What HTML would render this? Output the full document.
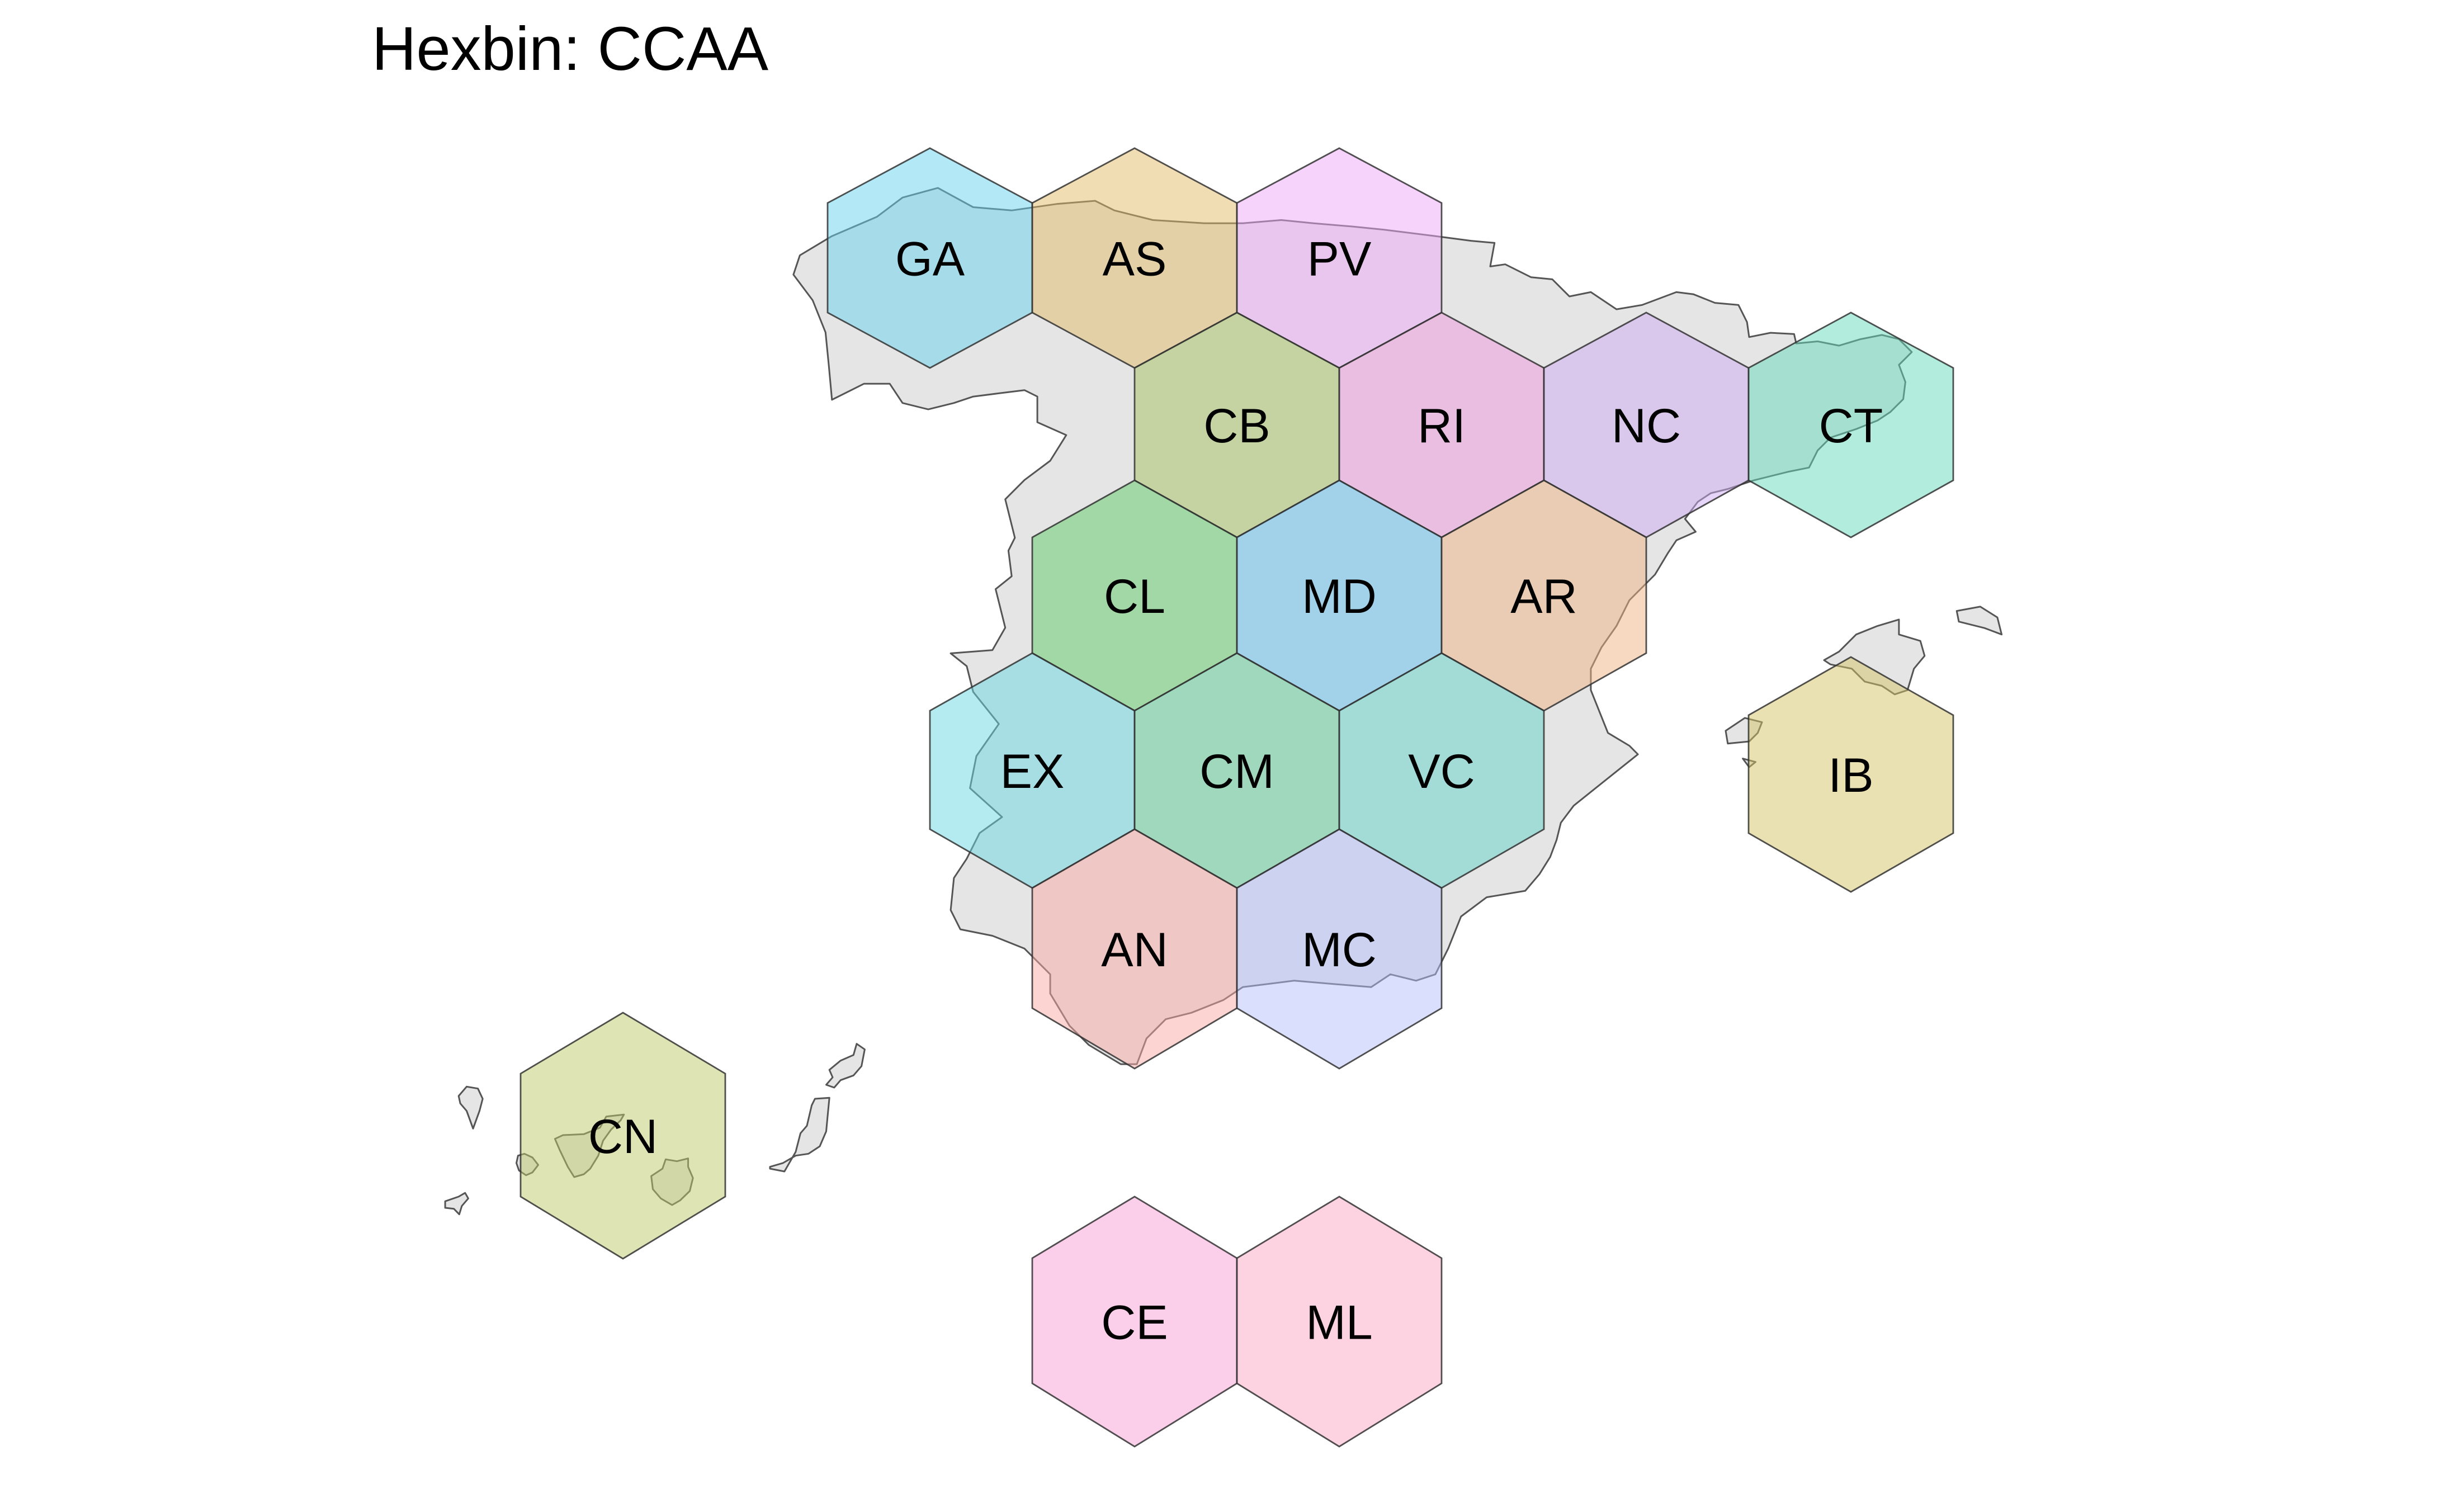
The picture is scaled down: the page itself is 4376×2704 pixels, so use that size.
<!DOCTYPE html>
<html><head><meta charset="utf-8"><style>
html,body{margin:0;padding:0;background:#fff;}
svg{display:block;font-family:"Liberation Sans",Arial,sans-serif;}
</style></head><body>
<svg id="chart" width="4376" height="2704" viewBox="0 0 4376 2704" xmlns="http://www.w3.org/2000/svg">
<rect width="4376" height="2704" fill="#fff"/>
<text x="665" y="125" font-size="110" fill="#000">Hexbin: CCAA</text>
<g id="land"></g>
<g id="hexes"></g>
</svg>
<script>
// ---- data ----
const codes = ["GA","AS","PV","CB","RI","NC","CT","CL","MD","AR","EX","CM","VC","AN","MC","CE","ML","IB","CN"];
const colIdx = [0,2,4, 3,5,7,9, 2,4,6, 1,3,5, 2,4, 2,4, 9,-3];
const rowIdx = [0,0,0, 1,1,1,1, 2,2,2, 3,3,3, 4,4, 5,5, 6,7];
const fills = ["#67d3ef","#e3bb67","#eba7f7","#a3c15d","#ed97db","#cdabf3","#65d9b9","#5dcb65","#5fbfef","#edb381","#67d7e3","#5bcb97","#61d1c9","#f9a9a5","#b3bffb","#f79dd5","#fba5c3","#d3c365","#bfc969"];
// rows: [top, shoulder, bottom-shoulder, bottom]
const rows = [[265,363,559,658],[559,658,859,961],[859,961,1168,1271],[1168,1271,1483,1588],[1483,1588,1803,1911],[2140,2250,2474,2587],[1175,1279,1490,1595],[1811,1920,2140,2251]];
const x0 = 1663, halfW = 183;
function xAt(c){ return x0 + c*halfW; }

// ---- land ----
const SVGNS="http://www.w3.org/2000/svg";
const landG=document.getElementById('land');
function mk(pts, fx, fy, name){
  const p=document.createElementNS(SVGNS,'polygon');
  p.setAttribute('points', pts.map(q=>fx(q[0]).toFixed(1)+','+fy(q[1]).toFixed(1)).join(' '));
  p.setAttribute('fill','#e5e5e5');p.setAttribute('stroke','#555');p.setAttribute('stroke-width','3');p.setAttribute('stroke-linejoin','round');
  
  
  landG.appendChild(p);
}
const z3x=v=>1350+v/0.8711, z3y=v=>250+v/0.8711;
const z4x=v=>2600+v/1.3067, z4y=v=>400+v/1.3067;
const z5x=v=>780+v/1.742, z5y=v=>1800+v/3;
const segA=[[120,150],[190,120],[230,90],[285,75],[340,105],[400,110],[470,100],[530,95],[560,110],[620,125],[700,130],[760,130],[820,125],[870,130],[930,135],[980,140],[1060,150]].map(q=>[z3x(q[0]),z3y(q[1])]);
const segB=[[40,40],[95,45],[85,100],[120,95],[180,125],[230,130],[270,170],[320,160],[380,200],[440,190],[520,160],[560,165],[610,185],[665,190],[685,230],[690,265],[740,255],[795,258],[800,280],[850,275],[900,285],[950,270],[1000,260],[1040,270],[1070,300],[1040,330],[1055,370],[1050,410],[1020,440],[990,460],[940,480],[880,500],[850,530],[830,570],[780,580],[700,600],[640,620],[600,630],[570,650],[540,690],[565,720],[520,740],[500,770],[470,820],[440,850],[410,880],[380,940],[345,990],[320,1040],[320,1090],[340,1140],[360,1190],[410,1220],[430,1240],[380,1280],[330,1320],[280,1360],[250,1400],[240,1440],[225,1480],[200,1520]].map(q=>[z4x(q[0]),z4y(q[1])]);
const segC=[[1200,1170],[1140,1180],[1100,1210],[1080,1260],[1060,1300],[1030,1310],[990,1300],[960,1320],[900,1315],[840,1310],[760,1320],[730,1340],[680,1360],[640,1370],[610,1400],[595,1440],[570,1440],[520,1410],[490,1380],[460,1330],[460,1300],[420,1260],[370,1240],[320,1230],[305,1200],[310,1150],[330,1120],[350,1080],[385,1055],[335,1010],[345,960],[380,910],[340,860],[330,820],[305,800],[370,795],[390,760],[375,700],[400,680],[395,640],[405,620],[390,560],[420,530],[460,500],[485,460],[440,440],[440,400],[420,390],[380,395],[340,400],[310,410],[270,420],[230,410],[210,380],[170,380],[120,405],[115,350],[110,300],[90,250],[60,210],[70,180]].map(q=>[z3x(q[0]),z3y(q[1])]);
const id=v=>v;
mk(segA.concat(segB,segC),id,id,'mainland-spain');
mk([[865,1020],[900,1000],[940,960],[990,940],[1040,925],[1040,960],[1090,975],[1100,1010],[1075,1040],[1060,1090],[1030,1100],[1000,1080],[960,1070],[930,1040],[880,1030]],z4x,z4y,'mallorca');
mk([[1175,905],[1230,895],[1270,920],[1280,960],[1240,945],[1180,930]],z4x,z4y,'menorca');
mk([[635,1185],[680,1155],[720,1165],[710,1190],[690,1210],[640,1215]],z4x,z4y,'ibiza');
mk([[675,1250],[705,1258],[690,1270]],z4x,z4y,'formentera');
mk([[70,480],[95,430],[130,440],[145,495],[135,560],[115,655],[95,560],[75,520]],z5x,z5y,'la-palma');
mk([[28,1045],[70,1020],[90,1000],[100,1030],[80,1070],[72,1115],[55,1085],[28,1080]],z5x,z5y,'el-hierro');
mk([[255,800],[275,790],[300,810],[318,850],[300,890],[280,905],[258,880],[250,840]],z5x,z5y,'la-gomera');
mk([[370,710],[395,690],[460,685],[510,650],[530,590],[585,580],[575,610],[545,660],[520,720],[505,800],[480,870],[460,900],[430,915],[410,860],[385,770]],z5x,z5y,'tenerife');
mk([[670,910],[705,870],[715,820],[750,830],[785,815],[785,860],[800,920],[790,990],[760,1040],[735,1065],[700,1030],[675,980]],z5x,z5y,'gran-canaria');
mk([[1040,860],[1080,840],[1120,800],[1160,790],[1195,750],[1215,670],[1220,580],[1225,490],[1180,495],[1170,530],[1155,640],[1135,680],[1120,780],[1085,885],[1040,870]],z5x,z5y,'fuerteventura');
mk([[1215,420],[1235,380],[1225,340],[1260,290],[1300,260],[1310,200],[1335,230],[1325,320],[1300,370],[1260,395],[1240,435]],z5x,z5y,'lanzarote');

// ---- hexes ----
const hexG=document.getElementById('hexes');
for(let i=0;i<codes.length;i++){
  const cx = codes[i]==="CN" ? 1114 : xAt(colIdx[i]);
  const r = rows[rowIdx[i]];
  const pts=[[cx,r[0]],[cx+halfW,r[1]],[cx+halfW,r[2]],[cx,r[3]],[cx-halfW,r[2]],[cx-halfW,r[1]]];
  const g=document.createElementNS(SVGNS,'g');
  
  
  const p=document.createElementNS(SVGNS,'polygon');
  p.setAttribute('points',pts.map(q=>q[0]+','+q[1]).join(' '));
  p.setAttribute('fill',fills[i]);p.setAttribute('fill-opacity','0.5');
  p.setAttribute('stroke','#333');p.setAttribute('stroke-opacity','0.85');p.setAttribute('stroke-width','2.8');
  
  
  g.appendChild(p);
  const t=document.createElementNS(SVGNS,'text');
  t.setAttribute('x',cx);t.setAttribute('y',(r[0]+r[3])/2+31);
  t.setAttribute('text-anchor','middle');t.setAttribute('font-size','86');t.setAttribute('fill','#000');
  
  
  t.textContent=codes[i];
  g.appendChild(t);
  hexG.appendChild(g);
}
</script>
</body></html>
